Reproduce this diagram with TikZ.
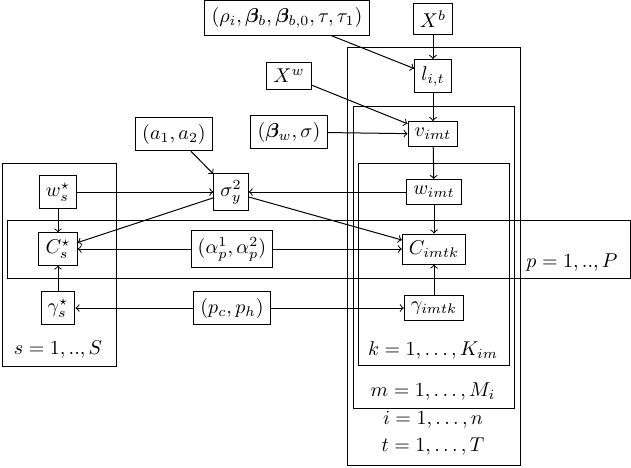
\documentclass[tikz,border=0pt]{standalone}
\usepackage{amsmath,bm}
\begin{document}
\begin{tikzpicture}[x=0.5pt,y=-0.5pt,
  var/.style={draw,rectangle,line width=0.5pt},
  plate/.style={draw,line width=0.5pt},
  edge/.style={->,line width=0.5pt}]
\useasboundingbox (0,0) rectangle (631,467);
% plates
\draw[plate] (347,47) rectangle (520,465);
\draw[plate] (353,106) rectangle (514,408);
\draw[plate] (358,163) rectangle (509,365);
\draw[plate] (2,163) rectangle (116,366);
\draw[plate] (7,220) rectangle (630,278);
% plate labels
\node (ls) at (58,350) {$s=1,..,S$};
\node (lk) at (433,350) {$k=1,\ldots,K_{im}$};
\node (lm) at (433,392) {$m=1,\ldots,M_i$};
\node (li) at (433,420) {$i=1,\ldots,n$};
\node (lt) at (433,447) {$t=1,\ldots,T$};
\node (lp) at (572,263) {$p=1,..,P$};
% nodes
\node[var] (rho) at (287,18) {$(\rho_i,\bm{\beta}_b,\bm{\beta}_{b,0},\tau,\tau_1)$};
\node[var] (Xb) at (433,19) {$X^b$};
\node[var] (lit) at (433,76) {$l_{i,t}$};
\node[var] (Xw) at (289,76) {$X^w$};
\node[var] (bw) at (289,132) {$(\bm{\beta}_w,\sigma)$};
\node[var] (v) at (433,134) {$v_{imt}$};
\node[var] (a) at (174,134) {$(a_1,a_2)$};
\node[var] (sig) at (231,192) {$\sigma_y^2$};
\node[var] (ws) at (58,192) {$w_s^\star$};
\node[var] (w) at (434,192) {$w_{imt}$};
\node[var] (Cs) at (58,249) {$C_s^\star$};
\node[var] (al) at (232,249) {$(\alpha_p^1,\alpha_p^2)$};
\node[var] (C) at (434,249) {$C_{imtk}$};
\node[var] (gs) at (58,308) {$\gamma_s^\star$};
\node[var] (pc) at (232,308) {$(p_c,p_h)$};
\node[var] (g) at (434,308) {$\gamma_{imtk}$};
% edges
\draw[edge] (rho) -- (lit);
\draw[edge] (Xb) -- (lit);
\draw[edge] (lit) -- (v);
\draw[edge] (Xw) -- (v);
\draw[edge] (bw) -- (v);
\draw[edge] (v) -- (w);
\draw[edge] (w) -- (sig);
\draw[edge] (a) -- (sig);
\draw[edge] (ws) -- (sig);
\draw[edge] (ws) -- (Cs);
\draw[edge] (sig) -- (Cs);
\draw[edge] (sig) -- (C);
\draw[edge] (w) -- (C);
\draw[edge] (al) -- (Cs);
\draw[edge] (al) -- (C);
\draw[edge] (gs) -- (Cs);
\draw[edge] (pc) -- (gs);
\draw[edge] (pc) -- (g);
\draw[edge] (g) -- (C);
\end{tikzpicture}
\end{document}
